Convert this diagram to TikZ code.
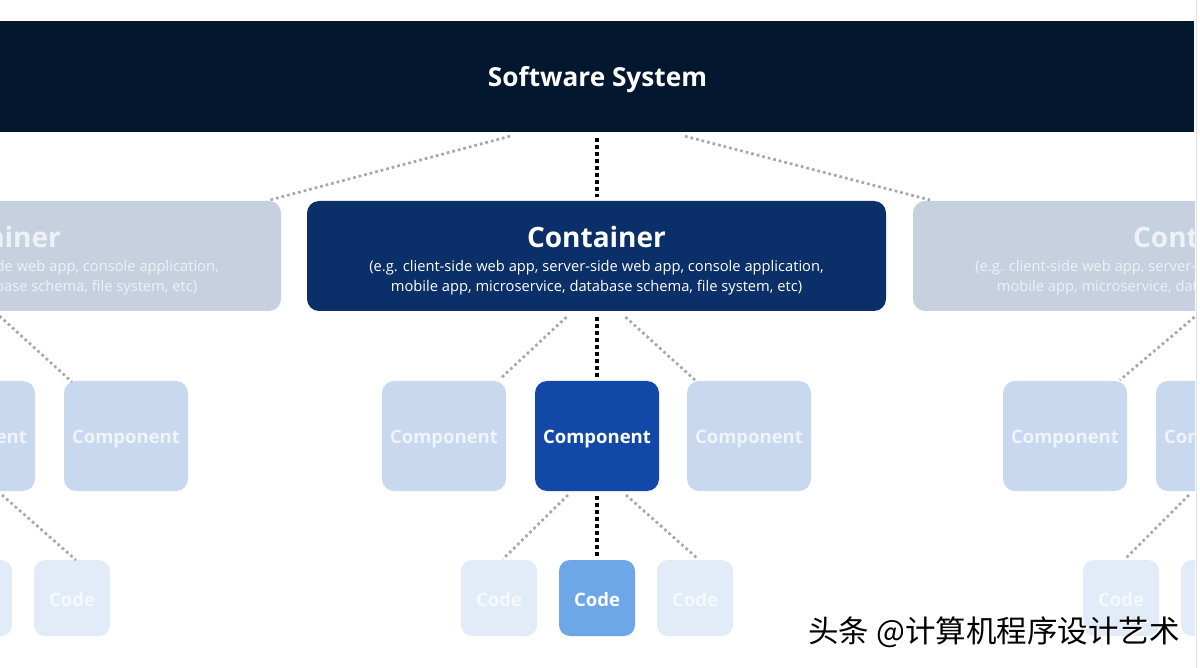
\documentclass[tikz,border=0pt]{standalone}
\usepackage{fontspec}
\setmainfont{Open Sans}
\newfontfamily\cjkfont{Noto Sans CJK SC}
\usetikzlibrary{calc}
\definecolor{barcol}{HTML}{03172F}
\definecolor{contM}{HTML}{0B2F68}
\definecolor{contF}{HTML}{C6D0DF}
\definecolor{contFt}{HTML}{EEF2F7}
\definecolor{compM}{HTML}{1249A9}
\definecolor{compF}{HTML}{C8D9EF}
\definecolor{compFt}{HTML}{EFF4FB}
\definecolor{codeM}{HTML}{6EA7E8}
\definecolor{codeF}{HTML}{E2ECF9}
\definecolor{codeFt}{HTML}{F5F9FE}
\definecolor{dotgray}{HTML}{A8A8A8}
\definecolor{edgegray}{HTML}{E2E2E2}
\begin{document}
\begin{tikzpicture}[x=1pt,y=-1pt,
  boxbase/.style={inner sep=0pt, outer sep=0pt, rounded corners=12pt},
  ctnbox/.style={boxbase, minimum width=579pt, minimum height=110pt},
  cmpbox/.style={boxbase, minimum width=124pt, minimum height=110pt},
  codebox/.style={boxbase, minimum width=76pt, minimum height=76pt, rounded corners=11pt},
  ttl/.style={font=\fontsize{28}{34}\selectfont\bfseries, inner sep=0pt},
  sub/.style={font=\fontsize{14.7}{20}\selectfont, align=center, inner sep=0pt},
  lbl/.style={font=\fontsize{18.5}{22}\selectfont\bfseries, inner sep=0pt},
  graydot/.style={draw=dotgray, line width=2.7pt, dash pattern=on 2.7pt off 3pt},
  blackdot/.style={draw=black, line width=3.2pt, dash pattern=on 3.8pt off 3.2pt}
]
\useasboundingbox (0,0) rectangle (1200,668);
\fill[white] (0,0) rectangle (1200,668);
\begin{scope}
\clip (0,0) rectangle (1195,668);
% top bar
\node[fill=barcol, inner sep=0pt, minimum width=1194pt, minimum height=111pt] (ss) at (597,76.5) {};
\node[font=\fontsize{26.2}{30}\selectfont\bfseries, text=white, inner sep=0pt] (sst) at ($(ss.center)+(0.5,3.5)$) {Software System};
% containers
\node[ctnbox, fill=contF] (cL) at (-8.5,256) {};
\node[ctnbox, fill=contM] (cM) at (596.5,256) {};
\node[ctnbox, fill=contF] (cR) at (1202.5,256) {};
\foreach \c/\t in {cL/contFt, cM/white, cR/contFt}{
  \node[ttl, text=\t] (\c t) at ($(\c.center)+(0,-19)$) {Container};
  \node[sub, text=\t] (\c s) at ($(\c.center)+(0,22)$) {(e.g. client-side web app, server-side web app, console application,\\mobile app, microservice, database schema, file system, etc)};
}
% components
\node[cmpbox, fill=compF] (p1) at (-27,436) {};
\node[cmpbox, fill=compF] (p2) at (126,436) {};
\node[cmpbox, fill=compF] (p3) at (444,436) {};
\node[cmpbox, fill=compM] (p4) at (597,436) {};
\node[cmpbox, fill=compF] (p5) at (749,436) {};
\node[cmpbox, fill=compF] (p6) at (1065,436) {};
\node[cmpbox, fill=compF] (p7) at (1218,436) {};
\foreach \p/\t in {p1/compFt, p2/compFt, p3/compFt, p4/white, p5/compFt, p6/compFt, p7/compFt}{
  \node[lbl, text=\t] (\p t) at ($(\p.center)+(0,3)$) {Component};
}
% code
\node[codebox, fill=codeF] (k1) at (-26,598) {};
\node[codebox, fill=codeF] (k2) at (72,598) {};
\node[codebox, fill=codeF] (k3) at (499,598) {};
\node[codebox, fill=codeM] (k4) at (597,598) {};
\node[codebox, fill=codeF] (k5) at (695,598) {};
\node[codebox, fill=codeF] (k6) at (1121,598) {};
\node[codebox, fill=codeF] (k7) at (1219,598) {};
\foreach \k/\t in {k1/codeFt, k2/codeFt, k3/codeFt, k4/white, k5/codeFt, k6/codeFt, k7/codeFt}{
  \node[lbl, text=\t] (\k t) at ($(\k.center)+(0,1.5)$) {Code};
}
% connectors: system -> containers
\draw[blackdot] ($(ss.south)+(0,6)$) -- ($(cM.north)+(0.5,-4)$);
\draw[graydot] ($(ss.south)+(-87,4)$) -- ($(cL.north east)+(-11,-1)$);
\draw[graydot] ($(ss.south)+(88,4)$) -- ($(cR.north west)+(17,-1)$);
% containers -> components
\draw[blackdot] ($(cM.south)+(0.5,6)$) -- ($(p4.north)+(0,-3)$);
\draw[graydot] ($(cM.south)+(-30,6)$) -- ($(p3.north east)+(-6,-2)$);
\draw[graydot] ($(cM.south)+(29,6)$) -- ($(p5.north west)+(8,-1)$);
\draw[graydot] ($(cL.south)+(8,5)$) -- ($(p2.north west)+(8,1)$);
\draw[graydot] ($(cR.south)+(-8,6)$) -- ($(p6.north east)+(-7,-1)$);
% components -> code
\draw[blackdot] ($(p4.south)+(0,5)$) -- ($(k4.north)+(0,-3)$);
\draw[graydot] ($(p4.south)+(-29,4)$) -- ($(k3.north)+(4,-1)$);
\draw[graydot] ($(p4.south)+(29,4)$) -- ($(k5.north)+(3,-1)$);
\draw[graydot] ($(p1.south)+(29,4)$) -- ($(k2.north)+(4,0)$);
\draw[graydot] ($(p7.south)+(-29,4)$) -- ($(k6.north)+(4,-1)$);
\end{scope}
% right edge line
\coordinate (e1) at (1196.5,0);
\coordinate (e2) at (1196.5,668);
\draw[edgegray, line width=1.5pt] (e1) -- (e2);
% watermark
\node[font=\cjkfont\fontsize{30.5}{33}\selectfont, text=white, inner sep=0pt] (wms) at (995.5,633.5) {头条 @计算机程序设计艺术};
\node[font=\cjkfont\fontsize{30.5}{33}\selectfont, text=black, inner sep=0pt] (wm) at (994,632) {头条 @计算机程序设计艺术};
\end{tikzpicture}
\end{document}
